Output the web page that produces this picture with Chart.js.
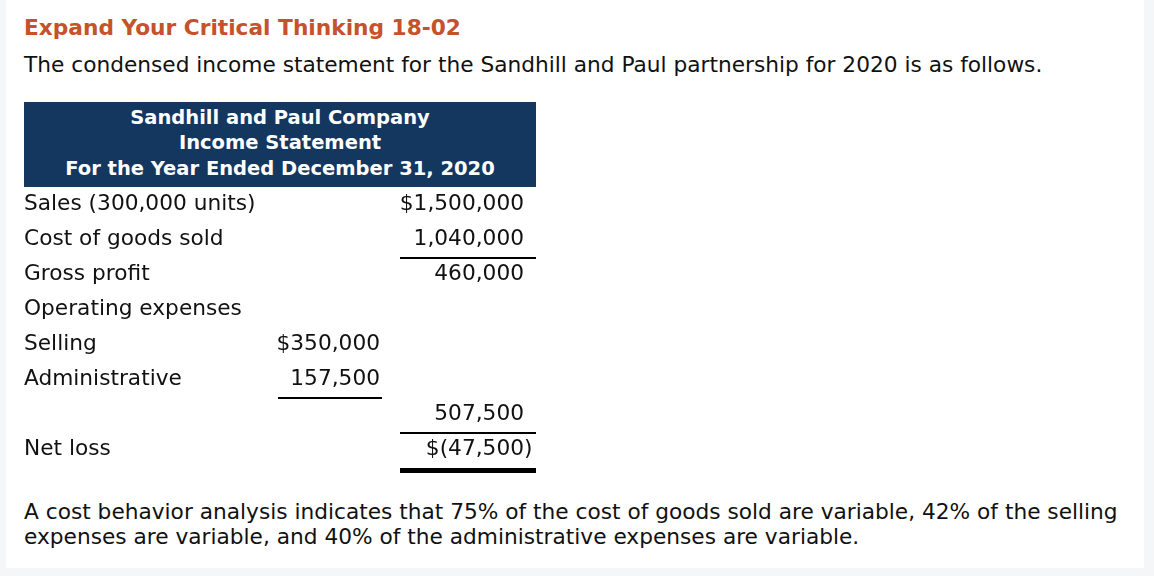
<!DOCTYPE html>
<html>
<head>
<meta charset="utf-8">
<title>Expand Your Critical Thinking 18-02</title>
<script src="https://cdn.jsdelivr.net/npm/chart.js@4.4.1/dist/chart.umd.min.js"></script>
<style>
  html, body { margin: 0; padding: 0; }
  body { width: 1154px; height: 576px; background: #f5f6f8; position: relative; overflow: hidden;
         font-family: "DejaVu Sans", Verdana, sans-serif; color: #111; }
  .panel { position: absolute; left: 6px; top: 0; width: 1138px; height: 568px; background: #fff; }
  .title { position: absolute; left: 24px; top: 17px; font-size: 21.7px; line-height: 21.7px; font-weight: bold; color: #c6512a; white-space: nowrap; }
  .intro { position: absolute; left: 24px; top: 53.5px; font-size: 21.7px; line-height: 21.7px; white-space: nowrap; }
  .head { position: absolute; left: 24px; top: 102px; width: 512px; height: 85px; background: #14375f; color: #fff;
          font-size: 19.5px; font-weight: bold; line-height: 25.5px; text-align: center; padding-top: 2.5px; box-sizing: border-box; white-space: nowrap; }
  .note { position: absolute; left: 24px; top: 499px; font-size: 21.7px; line-height: 25px; white-space: nowrap; }
  #wrap { position: absolute; left: 0; top: 171px; width: 560px; height: 316px; }
</style>
</head>
<body>
<div class="panel"></div>
<div class="title">Expand Your Critical Thinking 18-02</div>
<div class="intro">The condensed income statement for the Sandhill and Paul partnership for 2020 is as follows.</div>
<div class="head">Sandhill and Paul Company<br>Income Statement<br>For the Year Ended December 31, 2020</div>
<div id="wrap"><canvas id="statement"></canvas></div>
<div class="note">A cost behavior analysis indicates that 75% of the cost of goods sold are variable, 42% of the selling<br>expenses are variable, and 40% of the administrative expenses are variable.</div>

<script>
// statement rows, top to bottom
const rowLabels = ['Sales (300,000 units)', 'Cost of goods sold', 'Gross profit', 'Operating expenses',
                   'Selling', 'Administrative', '', 'Net loss'];
// inner column (expense detail)
const detailValues = [null, null, null, null, 350000, 157500, null, null];
const detailDollar = [false, false, false, false, true, false, false, false];
// outer column (totals)
const totalValues = [1500000, 1040000, 460000, null, null, null, 507500, -47500];
const totalDollar = [true, false, false, false, false, false, false, true];
// rows that get a rule underneath
const detailRules = [5];
const totalRules = [1, 6];
const totalDoubleRules = [7];

const FONT = { family: 'DejaVu Sans', size: 21.7 };
const INK = '#111';
const DETAIL_RIGHT = 380, DETAIL_LEFT = 278;
const TOTAL_RIGHT = 524, TOTAL_LEFT = 400, TOTAL_EDGE = 536;

function fmt(v, dollar) {
  const s = Math.abs(v).toLocaleString('en-US');
  if (v < 0) return (dollar ? '$' : '') + '(' + s;
  return (dollar ? '$' : '') + s;
}

const statementPlugin = {
  id: 'statement',
  afterDraw(chart) {
    const ctx = chart.ctx;
    const y = chart.scales.y;
    const rowY = i => y.getPixelForValue(i);
    ctx.save();
    ctx.font = FONT.size + 'px "' + FONT.family + '"';
    ctx.fillStyle = INK;
    ctx.textBaseline = 'middle';
    detailValues.forEach((v, i) => {
      if (v === null) return;
      ctx.textAlign = 'right';
      ctx.fillText(fmt(v, detailDollar[i]), DETAIL_RIGHT, rowY(i));
    });
    totalValues.forEach((v, i) => {
      if (v === null) return;
      ctx.textAlign = 'right';
      ctx.fillText(fmt(v, totalDollar[i]), TOTAL_RIGHT, rowY(i));
      if (v < 0) {
        // closing paren hangs past the column edge
        ctx.textAlign = 'left';
        ctx.fillText(')', TOTAL_RIGHT, rowY(i));
      }
    });
    ctx.strokeStyle = '#000';
    ctx.lineWidth = 2;
    const rule = (i, x0, x1) => {
      const yy = Math.round((rowY(i) + rowY(i + 1)) / 2 + 1);
      ctx.beginPath();
      ctx.moveTo(x0, yy);
      ctx.lineTo(x1, yy);
      ctx.stroke();
    };
    detailRules.forEach(i => rule(i, DETAIL_LEFT, DETAIL_RIGHT + 2));
    totalRules.forEach(i => rule(i, TOTAL_LEFT, TOTAL_EDGE));
    ctx.fillStyle = '#000';
    totalDoubleRules.forEach(i => {
      ctx.fillRect(TOTAL_LEFT, Math.round(rowY(i) + 18), TOTAL_EDGE - TOTAL_LEFT, 5);
    });
    ctx.restore();
  }
};

new Chart(document.getElementById('statement'), {
  type: 'bar',
  data: {
    labels: rowLabels,
    datasets: [{ data: rowLabels.map(() => null) }]
  },
  options: {
    indexAxis: 'y',
    responsive: true,
    maintainAspectRatio: false,
    animation: false,
    layout: { padding: { left: 24, top: 16, right: 0, bottom: 20 } },
    plugins: {
      legend: { display: false },
      tooltip: { enabled: false }
    },
    scales: {
      x: { display: false, min: 0, max: 1 },
      y: {
        type: 'category',
        grid: { display: false },
        border: { display: false },
        ticks: {
          autoSkip: false,
          crossAlign: 'far',
          padding: 0,
          color: INK,
          font: FONT
        }
      }
    }
  },
  plugins: [statementPlugin]
});
</script>
</body>
</html>
